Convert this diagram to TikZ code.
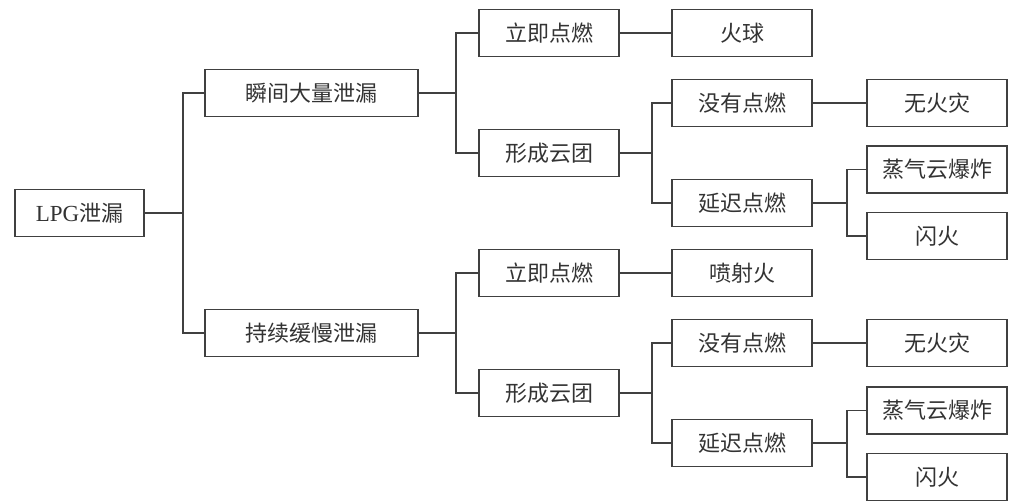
\documentclass[tikz,border=0pt]{standalone}
\usepackage{fontspec}
\setmainfont{Liberation Serif}
\newfontfamily\cjk{Noto Sans CJK SC}
\definecolor{ink}{HTML}{333333}
\definecolor{edge}{HTML}{404040}
\begin{document}
\begin{tikzpicture}[x=1pt,y=-1pt,
  box/.style={draw=edge,line width=1.8pt,rectangle,inner sep=0pt,minimum height=47pt,
    text=ink,font=\cjk\fontsize{22}{22}\selectfont},
  wA/.style={box,minimum width=129pt},
  wB/.style={box,minimum width=213pt},
  wC/.style={box,minimum width=140pt},
  conn/.style={draw=edge,line width=1.4pt}]
\useasboundingbox (0,0) rectangle (1017,501);
% nodes
\node[wA] (root) at (79.5,213) {{\rmfamily\fontsize{23}{23}\selectfont LPG}泄漏};
\node[wB] (b1) at (311.5,93) {瞬间大量泄漏};
\node[wB] (b2) at (311.5,333) {持续缓慢泄漏};
\node[wC] (c1) at (549,33) {立即点燃};
\node[wC] (c2) at (549,153) {形成云团};
\node[wC] (c3) at (549,273) {立即点燃};
\node[wC] (c4) at (549,393) {形成云团};
\node[wC] (d1) at (742,33) {火球};
\node[wC] (d2) at (742,103) {没有点燃};
\node[wC] (d3) at (742,203) {延迟点燃};
\node[wC] (d4) at (742,273) {喷射火};
\node[wC] (d5) at (742,343) {没有点燃};
\node[wC] (d6) at (742,443) {延迟点燃};
\node[wC] (e1) at (937,103) {无火灾};
\node[wC] (e2) at (937,169.5) {蒸气云爆炸};
\node[wC] (e3) at (937,236) {闪火};
\node[wC] (e4) at (937,343) {无火灾};
\node[wC] (e5) at (937,410.5) {蒸气云爆炸};
\node[wC] (e6) at (937,477) {闪火};
% junctions
\coordinate (j0) at (183,213);
\coordinate (j1) at (456,93);
\coordinate (j2) at (456,333);
\coordinate (j3) at (652,153);
\coordinate (j4) at (652,393);
\coordinate (j5) at (847,203);
\coordinate (j6) at (847,443);
% connectors
\draw[conn] (root.east) -- (j0);
\draw[conn] (b1.west) -| (j0) |- (b2.west);
\draw[conn] (b1.east) -- (j1);
\draw[conn] (c1.west) -| (j1) |- (c2.west);
\draw[conn] (b2.east) -- (j2);
\draw[conn] (c3.west) -| (j2) |- (c4.west);
\draw[conn] (c1.east) -- (d1.west);
\draw[conn] (c3.east) -- (d4.west);
\draw[conn] (c2.east) -- (j3);
\draw[conn] (d2.west) -| (j3) |- (d3.west);
\draw[conn] (c4.east) -- (j4);
\draw[conn] (d5.west) -| (j4) |- (d6.west);
\draw[conn] (d2.east) -- (e1.west);
\draw[conn] (d5.east) -- (e4.west);
\draw[conn] (d3.east) -- (j5);
\draw[conn] (e2.west) -| (j5) |- (e3.west);
\draw[conn] (d6.east) -- (j6);
\draw[conn] (e5.west) -| (j6) |- (e6.west);
\end{tikzpicture}
\end{document}
